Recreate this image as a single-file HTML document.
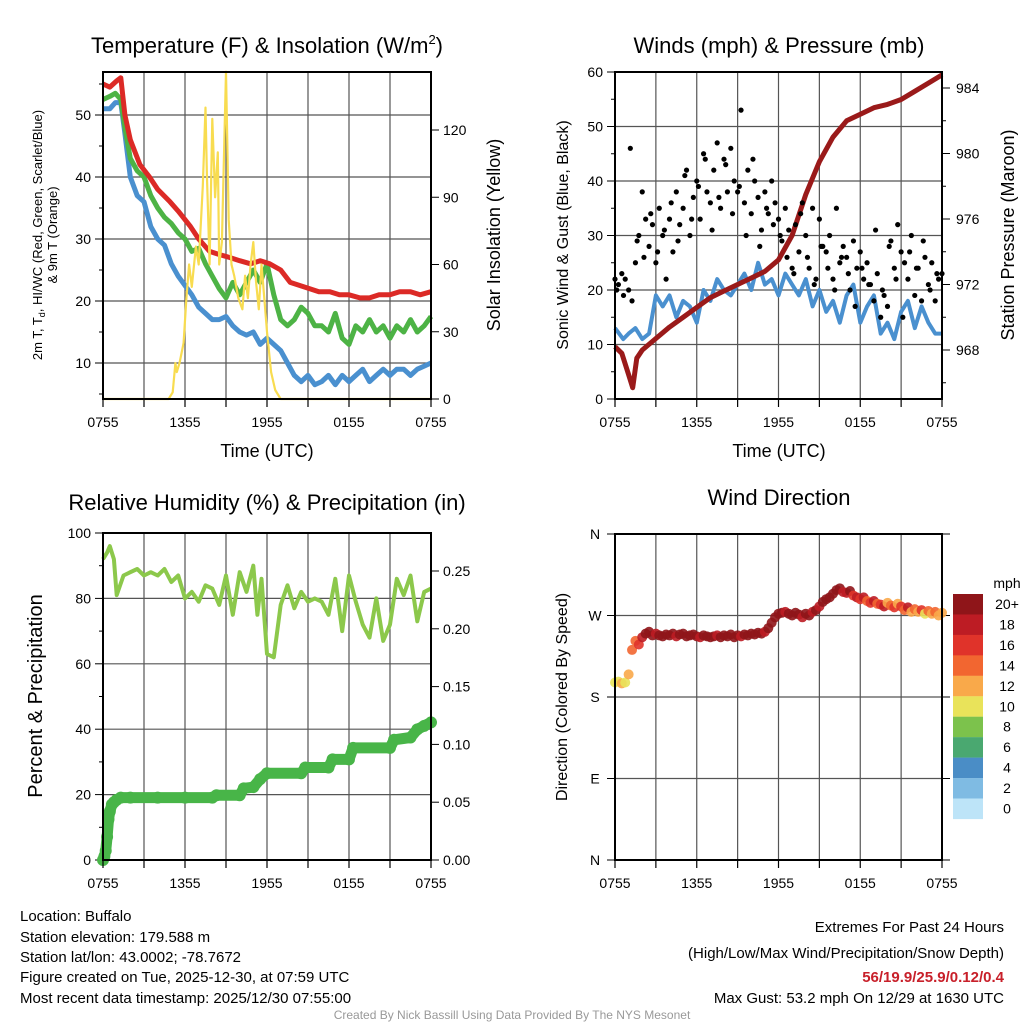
<!DOCTYPE html>
<html><head><meta charset="utf-8"><style>
html,body{margin:0;padding:0;background:#fff;}
svg{display:block;font-family:"Liberation Sans",Arial,sans-serif;}
</style></head><body>
<svg id="fig" width="1024" height="1024" viewBox="0 0 1024 1024" xmlns="http://www.w3.org/2000/svg">
<rect width="1024" height="1024" fill="#fff"/>
<text x="267" y="53" font-size="22" text-anchor="middle">Temperature (F) &amp; Insolation (W/m<tspan font-size="13" dy="-9">2</tspan><tspan dy="9">)</tspan></text>
<text x="779" y="53" font-size="22" text-anchor="middle">Winds (mph) &amp; Pressure (mb)</text>
<text x="267" y="510" font-size="22" text-anchor="middle">Relative Humidity (%) &amp; Precipitation (in)</text>
<text x="779" y="505" font-size="22" text-anchor="middle">Wind Direction</text>
<g id="p1"></g>
<g id="p2"></g>
<g id="p3"></g>
<g id="p4"></g>
<g font-size="15">
<text x="20" y="921">Location: Buffalo</text>
<text x="20" y="942">Station elevation: 179.588 m</text>
<text x="20" y="962">Station lat/lon: 43.0002; -78.7672</text>
<text x="20" y="982">Figure created on Tue, 2025-12-30, at 07:59 UTC</text>
<text x="20" y="1003">Most recent data timestamp: 2025/12/30 07:55:00</text>
</g>
<g font-size="15" text-anchor="end">
<text x="1004" y="932">Extremes For Past 24 Hours</text>
<text x="1004" y="958">(High/Low/Max Wind/Precipitation/Snow Depth)</text>
<text x="1004" y="982" fill="#c8202a" font-weight="bold">56/19.9/25.9/0.12/0.4</text>
<text x="1004" y="1003">Max Gust: 53.2 mph On 12/29 at 1630 UTC</text>
</g>
<text x="512" y="1019" font-size="12" fill="#999" text-anchor="middle">Created By Nick Bassill Using Data Provided By The NYS Mesonet</text>
</svg>
<script>
const xTickLabels=["0755","1355","1955","0155","0755"];
// Panel 1
const tempT=[0,0.5,1,1.3,1.6,2,2.7,3.4,4,4.9,5.5,6.4,7,7.8,8.5,9.3,10,10.8,11.5,12.2,13,13.7,14.4,15.1,15.8,16.6,17.3,18,18.8,19.5,20.2,21,21.7,22.5,23.2,24];
const tempRed=[55,54.5,55.5,56,50,46,42,40,38,36,34.5,32,30,28,27.5,27,26.5,26,26.5,26,25,23,22.5,22,21.5,21.5,21,21,20.5,20.5,21,21,21.5,21.5,21,21.5];
const dewT=[0,0.5,0.9,1.3,1.6,2,2.5,3,3.5,4,4.5,5,5.5,6,6.5,7,7.5,8,8.5,9,9.5,10,10.5,11,11.5,12,12.5,13,13.5,14,14.5,15,15.5,16,16.5,17,17.5,18,18.5,19,19.5,20,20.5,21,21.5,22,22.5,23,23.5,24];
const dewGreen=[52.5,53,53.5,52.5,48,43,41,40,37,35,33.5,32.5,31,30,28,28.5,26,24,22,20.5,23,21,23,25,23,26,21,17,16,17,19,18,16,16,15,18,14,13,16,15,17,15,16,14,16,15,17,15,16,17.5];
const wcBlue=[51,51,52,52,47,40,37,36,32,30,29,26,24,22.5,21,19,18,17,17,17.5,16,15,14.5,15,13,14,13,12,10,8,7,8,6.5,7,8,6.5,8,7,8,9,7,8,9,8,9,9,8,9,9.5,10];
const solarT=[0,4.8,5.1,5.3,5.4,5.6,5.9,6.1,6.3,6.5,6.8,7.0,7.3,7.5,7.6,7.8,8.0,8.2,8.4,8.5,8.7,9.0,9.2,9.4,9.6,9.9,10.2,10.4,10.6,10.8,11.0,11.2,11.4,11.6,11.8,12.0,12.3,12.6,13,24];
const solarW=[0,0,3,16,12,16,25,45,60,50,68,60,95,130,100,60,125,90,110,60,70,146,80,60,55,45,40,55,45,60,70,52,40,60,45,30,12,4,0,0];
const tempTicks=[10,20,30,40,50];
const solarTicks=[0,30,60,90,120];
// Panel 2
const windT=[0,0.3,0.6,1,1.5,2,2.5,3,3.5,4,4.5,5,5.5,6,6.5,7,7.5,8,8.5,9,9.5,10,10.5,11,11.5,12,12.5,13,13.5,14,14.5,15,15.5,16,16.5,17,17.5,18,18.5,19,19.5,20,20.5,21,21.5,22,22.5,23,23.5,24];
const windSpd=[13,12,11,12,13,11,12,19,17,19,15,18,17,14,20,18,22,20,19,21,23,20,25,21,22,19,23,21,19,22,17,20,16,18,14,19,21,14,17,19,12,14,11,16,18,13,17,14,12,12];
const gustA=[22,21,23,22,20,18,25,30,38,33,28,32,25,35,30,22,33,27,38,32,35,42,30,37,40,33,45,38,36,42,47,35,44,38,46,40,38,53,36,42,34,40,37,31,38,34,40,36,33,29,35,31,24,32,27,36,30,24,35,22,33,28,27,30,22,35,25,28,26,20,29,24,27,22,25,21,18,23,15,19,17,29,24,32,27,25,22,30,19,24,18,26,21,25,18,22,23];
const gustB=[20,19,46,29,26,34,27,31,36,29,41,33,39,44,31,37,43,34,39,30,44,28,35,32,30,26,23,34,26,21,28,24,20,26,23,17,24,21,31,20,28,22,15,27,24,29,20,23];
const presT=[0,0.5,1,1.3,1.6,2,3,4,5,6,7,8,9,10,11,12,13,14,15,16,17,18,19,20,21,22,23,24];
const presMb=[968.2,967.8,966.5,965.7,967.5,968,968.7,969.4,970,970.6,971.2,971.6,972,972.4,972.8,973.5,975,977.5,979.5,981,982,982.4,982.8,983,983.3,983.8,984.3,984.8];
const windTicks=[0,10,20,30,40,50,60];
const presTicks=[968,972,976,980,984];
// Panel 3
const rhT=[0,0.3,0.5,0.8,1,1.5,2,2.5,3,3.5,4,4.5,5,5.5,6,6.5,7,7.5,8,8.5,9,9.5,10,10.5,11,11.3,11.6,12,12.5,13,13.5,14,14.5,15,15.5,16,16.5,17,17.5,18,18.5,19,19.5,20,20.5,21,21.5,22,22.5,23,23.5,24];
const rhPct=[92,94,96,92,81,87,88,89,87,88,87,89,85,87,80,82,79,84,83,78,87,75,88,82,90,75,86,63,62,78,84,77,82,79,80,79,75,86,70,87,79,72,68,80,67,72,86,81,87,73,82,83];
const pcpT=[0,0.1,0.2,0.3,0.4,0.5,0.65,0.8,1.0,1.3,2,4,6,8,8.3,10,10.3,11,11.5,12,14.5,14.8,16.5,16.8,18,18.3,21,21.3,22.5,23,23.5,24];
const pcpIn=[0,0.003,0.008,0.02,0.035,0.042,0.048,0.05,0.052,0.054,0.054,0.054,0.054,0.054,0.056,0.056,0.062,0.063,0.07,0.075,0.075,0.08,0.08,0.087,0.087,0.097,0.097,0.104,0.106,0.113,0.116,0.119];
const rhTicks=[0,20,40,60,80,100];
const pcpTicks=[0,0.05,0.10,0.15,0.20,0.25];
// Panel 4
const dirDeg=[196,197,195,196,205,232,242,238,246,250,252,248,250,248,247,249,248,250,247,249,250,247,248,249,247,246,248,247,246,247,248,246,248,247,249,246,248,247,249,248,250,249,251,250,252,256,262,268,272,273,274,272,270,273,271,268,272,270,274,276,280,285,288,290,294,298,300,296,295,297,292,290,288,290,286,284,286,283,282,280,284,281,279,283,280,276,279,274,277,274,276,272,275,272,274,270,273];
const dirSpd=[11,11,12,11,13,15,14,16,19,20,21,20,19,21,20,22,20,21,19,20,21,22,20,21,20,19,21,22,20,21,19,20,21,20,22,21,20,19,21,20,22,21,20,21,19,20,21,22,20,21,19,20,21,22,20,19,21,20,18,21,19,22,20,21,22,21,20,19,18,20,17,19,16,18,15,17,19,14,16,18,13,15,17,12,16,14,18,13,15,12,16,11,14,12,15,13,12];
const dirLabels=["N","E","S","W","N"];
const cbLabels=["20+","18","16","14","12","10","8","6","4","2","0"];
const cbColors=["#8f1519","#bd1c24","#e0332a","#f26630","#f9a94a","#e9e35a","#7cc24c","#4aa870","#4a8dc6","#7fbbe3","#bde4f8"];

const NS="http://www.w3.org/2000/svg";
function mk(parent,tag,attrs){const e=document.createElementNS(NS,tag);for(const k in attrs)e.setAttribute(k,attrs[k]);parent.appendChild(e);return e;}
function txt(parent,x,y,s,size,anchor,extra){const e=mk(parent,"text",Object.assign({x:x,y:y,"font-size":size,"text-anchor":anchor},extra||{}));e.textContent=s;return e;}
function path(xs,ys,fx,fy){return xs.map((t,i)=>(i?"L":"M")+fx(t).toFixed(1)+","+fy(ys[i]).toFixed(1)).join("");}
function frame(g,x0,x1,y0,y1,hLines,vLines){
  vLines.forEach(x=>mk(g,"line",{x1:x,x2:x,y1:y0,y2:y1,stroke:"#555","stroke-width":1.2}));
  hLines.forEach(y=>mk(g,"line",{x1:x0,x2:x1,y1:y,y2:y,stroke:"#555","stroke-width":1.2}));
}
function border(g,x0,x1,y0,y1){mk(g,"rect",{x:x0,y:y0,width:x1-x0,height:y1-y0,fill:"none",stroke:"#000","stroke-width":2});}
function xaxis(g,x0,x1,y1){
  const fx=h=>x0+h/24*(x1-x0);
  for(let h=0;h<=24;h+=3){const x=fx(h);mk(g,"line",{x1:x,x2:x,y1:y1,y2:y1+8,stroke:"#000","stroke-width":1.2});}
  xTickLabels.forEach((s,i)=>{const l=txt(g,fx(i*6),y1+28,s,14,"middle");
    
    });
}
const vgrid=(x0,x1)=>{const a=[];for(let h=3;h<24;h+=3)a.push(x0+h/24*(x1-x0));return a;};

// ---------- Panel 1 ----------
(function(){
 const g=document.getElementById("p1");const x0=103,x1=431,y0=72,y1=399;
 const fx=h=>x0+h/24*(x1-x0);
 const fy=t=>115+(50-t)*6.2;
 const fs=w=>399-w*(269/120);
 frame(g,x0,x1,y0,y1,tempTicks.map(fy),vgrid(x0,x1));
 tempTicks.forEach(t=>{mk(g,"line",{x1:x0-8,x2:x0,y1:fy(t),y2:fy(t),stroke:"#000"});const l=txt(g,x0-12,fy(t)+5,String(t),14,"end");
  
  });
 for(let t=5;t<=55;t+=5){if(t%10)mk(g,"line",{x1:x0-4,x2:x0,y1:fy(t),y2:fy(t),stroke:"#000"});}
 solarTicks.forEach(w=>{mk(g,"line",{x1:x1,x2:x1+8,y1:fs(w),y2:fs(w),stroke:"#000"});const l=txt(g,x1+12,fs(w)+5,String(w),14,"start");
  
  });
 const blue=mk(g,"path",{d:path(dewT,wcBlue,fx,fy),fill:"none",stroke:"#4a90cf","stroke-width":5,"stroke-linejoin":"round"});
 
 const green=mk(g,"path",{d:path(dewT,dewGreen,fx,fy),fill:"none",stroke:"#4db345","stroke-width":5,"stroke-linejoin":"round"});
 
 const red=mk(g,"path",{d:path(tempT,tempRed,fx,fy),fill:"none",stroke:"#dc2a26","stroke-width":5,"stroke-linejoin":"round"});
 
 const sol=mk(g,"path",{d:path(solarT,solarW,fx,fs),fill:"none",stroke:"#f8dc50","stroke-width":2.2,"stroke-linejoin":"round"});
 
 border(g,x0,x1,y0,y1);xaxis(g,x0,x1,y1);
 const xt=txt(g,267,457,"Time (UTC)",18,"middle");
 const yt=mk(g,"text",{transform:"translate(42,235) rotate(-90)","font-size":13,"text-anchor":"middle"});
 yt.innerHTML='2m T, T<tspan font-size="9" dy="3">d</tspan><tspan dy="-3">, HI/WC (Red, Green, Scarlet/Blue)</tspan>';
 
 const yt2=txt(g,0,0,"& 9m T (Orange)",13,"middle",{transform:"translate(57,235) rotate(-90)"});
 
 const rt=txt(g,0,0,"Solar Insolation (Yellow)",18,"middle",{transform:"translate(500,235) rotate(-90)"});
 
})();

// ---------- Panel 2 ----------
(function(){
 const g=document.getElementById("p2");const x0=615,x1=942,y0=72,y1=399;
 const fx=h=>x0+h/24*(x1-x0);
 const fy=v=>399-v*(327/60);
 const fp=p=>88+(984-p)*(262/16);
 frame(g,x0,x1,y0,y1,windTicks.map(fy),vgrid(x0,x1));
 windTicks.forEach(t=>{mk(g,"line",{x1:x0-8,x2:x0,y1:fy(t),y2:fy(t),stroke:"#000"});const l=txt(g,x0-12,fy(t)+5,String(t),14,"end");
  });
 for(let t=5;t<60;t+=10)mk(g,"line",{x1:x0-4,x2:x0,y1:fy(t),y2:fy(t),stroke:"#000"});
 presTicks.forEach(p=>{mk(g,"line",{x1:x1,x2:x1+8,y1:fp(p),y2:fp(p),stroke:"#000"});const l=txt(g,x1+14,fp(p)+5,String(p),14,"start");
  });
 for(let p=966;p<=986;p+=2){if(p%4&&fp(p)>=y0&&fp(p)<=y1)mk(g,"line",{x1:x1,x2:x1+4,y1:fp(p),y2:fp(p),stroke:"#000"});}
 const w=mk(g,"path",{d:path(windT,windSpd,fx,fy),fill:"none",stroke:"#4a90cf","stroke-width":4,"stroke-linejoin":"round"});
 
 const pr=mk(g,"path",{d:path(presT,presMb,fx,fp),fill:"none",stroke:"#9a1a1a","stroke-width":5,"stroke-linejoin":"round"});
 
 gustA.forEach((v,i)=>{const d=mk(g,"circle",{cx:fx(i*0.25),cy:fy(v),r:2.6,fill:"#000"});
  });
 gustB.forEach((v,i)=>{const d=mk(g,"circle",{cx:fx(i*0.5+0.125),cy:fy(v),r:2.6,fill:"#000"});
  });
 border(g,x0,x1,y0,y1);xaxis(g,x0,x1,y1);
 const xt=txt(g,779,457,"Time (UTC)",18,"middle");
 const yt=txt(g,0,0,"Sonic Wind & Gust (Blue, Black)",16,"middle",{transform:"translate(568,235) rotate(-90)"});
 
 const rt=txt(g,0,0,"Station Pressure (Maroon)",18,"middle",{transform:"translate(1014,235) rotate(-90)"});
 
})();

// ---------- Panel 3 ----------
(function(){
 const g=document.getElementById("p3");const x0=103,x1=431,y0=533,y1=860;
 const fx=h=>x0+h/24*(x1-x0);
 const fy=v=>860-v*3.27;
 const fq=p=>860-p*(289/0.25);
 frame(g,x0,x1,y0,y1,rhTicks.slice(1,5).map(fy),vgrid(x0,x1));
 rhTicks.forEach(t=>{mk(g,"line",{x1:x0-8,x2:x0,y1:fy(t),y2:fy(t),stroke:"#000"});const l=txt(g,x0-12,fy(t)+5,String(t),14,"end");
  });
 for(let t=10;t<100;t+=20)mk(g,"line",{x1:x0-4,x2:x0,y1:fy(t),y2:fy(t),stroke:"#000"});
 pcpTicks.forEach(p=>{mk(g,"line",{x1:x1,x2:x1+8,y1:fq(p),y2:fq(p),stroke:"#000"});const l=txt(g,x1+12,fq(p)+5,p.toFixed(2),14,"start");
  });
 const pl=mk(g,"path",{d:path(pcpT,pcpIn,fx,fq),fill:"none",stroke:"#48b548","stroke-width":11,"stroke-linejoin":"round","stroke-linecap":"round"});
 
 pcpT.forEach((t,i)=>{const d=mk(g,"circle",{cx:fx(t),cy:fq(pcpIn[i]),r:6,fill:"#48b548"});
  });
 const rl=mk(g,"path",{d:path(rhT,rhPct,fx,fy),fill:"none",stroke:"#8cc84b","stroke-width":4,"stroke-linejoin":"round"});
 
 border(g,x0,x1,y0,y1);xaxis(g,x0,x1,y1);
 const yt=txt(g,0,0,"Percent & Precipitation",20,"middle",{transform:"translate(42,696) rotate(-90)"});
 
})();

// ---------- Panel 4 ----------
(function(){
 const g=document.getElementById("p4");const x0=615,x1=942,y0=534,y1=860;
 const fx=h=>x0+h/24*(x1-x0);
 const fy=d=>860-d/360*(y1-y0);
 frame(g,x0,x1,y0,y1,[90,180,270].map(fy),vgrid(x0,x1));
 dirLabels.forEach((s,i)=>{const y=fy(i*90);mk(g,"line",{x1:x0-8,x2:x0,y1:y,y2:y,stroke:"#000"});mk(g,"line",{x1:x1,x2:x1+8,y1:y,y2:y,stroke:"#000"});
  const l=txt(g,x0-20,y+5,s,14,"middle");});
 const col=s=>cbColors[Math.max(0,Math.min(10,10-Math.floor(s/2)))];
 dirDeg.forEach((d,i)=>{const c=mk(g,"circle",{cx:fx(i*0.25),cy:fy(d),r:5,fill:col(dirSpd[i]),"fill-opacity":0.9});
  });
 border(g,x0,x1,y0,y1);xaxis(g,x0,x1,y1);
 const yt=txt(g,0,0,"Direction (Colored By Speed)",16,"middle",{transform:"translate(567,697) rotate(-90)"});
 
 const cb=mk(g,"g",{});
 const u=txt(cb,1007,588,"mph",14,"middle");
 cbColors.forEach((c,i)=>{const r=mk(cb,"rect",{x:953,y:594+i*20.45,width:30,height:20.6,fill:c});
  
  const l=txt(cb,1007,594+i*20.45+15,cbLabels[i],14,"middle");
  });
})();
</script>
</body></html>
